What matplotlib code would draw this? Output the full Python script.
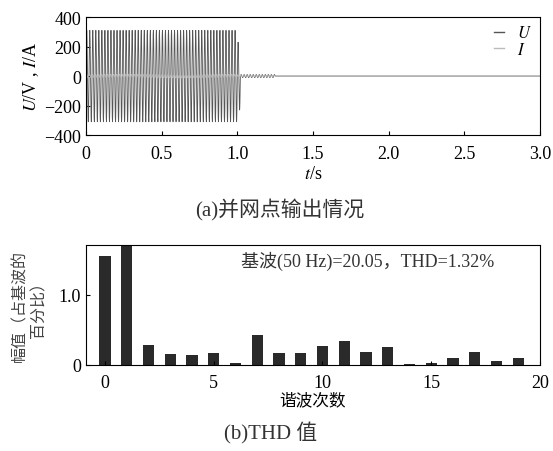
import numpy as np
import matplotlib.pyplot as plt

plt.rcParams['font.family'] = ['Liberation Serif', 'Noto Sans CJK SC']
plt.rcParams['mathtext.fontset'] = 'stix'

# waveform envelope: (start, end, amplitude) segments of the 50 Hz voltage/current
freq = 50.0
u_seg_start = [0.0, 1.0, 1.02, 1.25]
u_seg_end = [1.0, 1.02, 1.25, 3.0]
u_seg_amp = [310.0, 230.0, 10.0, 0.0]
i_seg_amp = [12.0, 8.0, 3.0, 0.0]

# harmonic spectrum
orders = list(range(20))
amps = [1.55, 1.75, 0.28, 0.15, 0.145, 0.16, 0.03, 0.42, 0.17, 0.16,
        0.26, 0.34, 0.18, 0.25, 0.01, 0.02, 0.10, 0.18, 0.05, 0.09]

t = np.linspace(0, 3.0, 30001)
u = np.zeros_like(t)
i = np.zeros_like(t)
for s, e, au, ai in zip(u_seg_start, u_seg_end, u_seg_amp, i_seg_amp):
    m = (t >= s) & (t < e)
    u[m] = au * np.sin(2 * np.pi * freq * t[m])
    i[m] = ai * np.sin(2 * np.pi * freq * t[m] + 0.5)

fig = plt.figure(figsize=(5.53, 4.52), dpi=100)

ax1 = fig.add_axes([0.1555, 0.699, 0.821, 0.261])
ax1.plot(t, u, color='#555555', lw=0.6, label='$U$')
ax1.plot(t, i, color='#bbbbbb', lw=0.6, label='$I$')
ax1.set_xlim(0, 3.0)
ax1.set_ylim(-400, 400)
ax1.set_xticks([0, 0.5, 1.0, 1.5, 2.0, 2.5, 3.0])
ax1.set_xticklabels(['0', '0.5', '1.0', '1.5', '2.0', '2.5', '3.0'])
ax1.set_yticks([-400, -200, 0, 200, 400])
ax1.set_yticklabels(['\u2212400', '\u2212200', '0', '200', '400'])
ax1.tick_params(direction='in', labelsize=13, length=3)
ax1.tick_params(axis='x', pad=7)
ax1.set_xlabel('$t$/s', fontsize=13, labelpad=2)
ax1.set_ylabel('$U$/V , $I$/A', fontsize=13, labelpad=2)
leg = ax1.legend(loc='upper right', frameon=False, fontsize=12, handlelength=0.6,
                 handletextpad=0.8, labelspacing=0.05, borderaxespad=0.1)
for ln in leg.get_lines():
    ln.set_linewidth(1.0)
fig.text(0.506, 0.535, '(a)并网点输出情况', ha='center', va='center', fontsize=15,
         color='#333333')

ax2 = fig.add_axes([0.1555, 0.191, 0.821, 0.265])
ax2.bar(orders, amps, width=0.52, color='#2a2a2a')
ax2.set_xlim(-0.87, 20)
ax2.set_ylim(0, 1.71)
ax2.set_xticks([0, 5, 10, 15, 20])
ax2.set_yticks([0, 1.0])
ax2.set_yticklabels(['0', '1.0'])
ax2.tick_params(direction='in', labelsize=13, length=3)
ax2.tick_params(axis='x', pad=7)
ax2.set_xlabel('谐波次数', fontsize=12, labelpad=1)
ax2.set_ylabel('幅值（占基波的\n百分比）', fontsize=11.5, labelpad=8, linespacing=1.25,
               color='#444444')
ax2.text(0.9, 0.87, '基波(50 Hz)=20.05，THD=1.32%', transform=ax2.transAxes,
         ha='right', va='center', fontsize=13, color='#333333')
fig.text(0.49, 0.042, '(b)THD 值', ha='center', va='center', fontsize=15,
         color='#333333')

fig.savefig('out.png', dpi=100)
